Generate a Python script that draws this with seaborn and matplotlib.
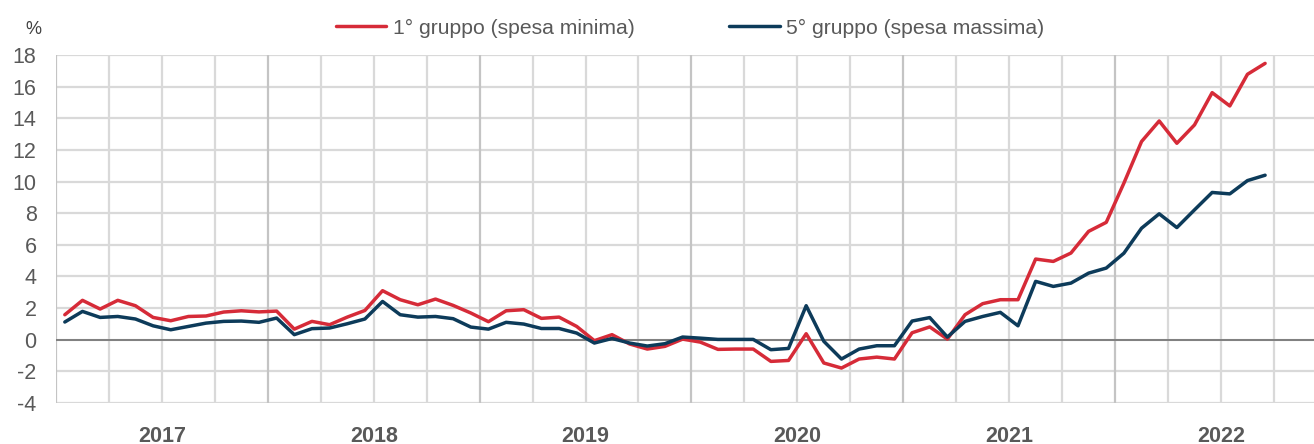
import numpy as np
import pandas as pd

import matplotlib as mpl
mpl.use('Agg')
import matplotlib.pyplot as plt
import seaborn as sns

sns.set_style('white')
plt.rcParams['font.family'] = ['Liberation Sans', 'DejaVu Sans']
plt.rcParams['axes.unicode_minus'] = False

years = ['2017', '2018', '2019', '2020', '2021', '2022']
series_names = ['1° gruppo (spesa minima)', '5° gruppo (spesa massima)']

# monthly values, Jan 2017 - Sep 2022
grp1 = [1.58, 2.49, 1.94, 2.49, 2.15, 1.41, 1.20, 1.47, 1.50, 1.75, 1.83, 1.76,
        1.81, 0.67, 1.16, 0.95, 1.43, 1.85, 3.10, 2.53, 2.21, 2.57, 2.17, 1.69,
        1.14, 1.83, 1.90, 1.35, 1.43, 0.84, -0.06, 0.32, -0.27, -0.59, -0.42, 0.04,
        -0.15, -0.61, -0.59, -0.59, -1.37, -1.31, 0.38, -1.47, -1.79, -1.22, -1.10, -1.22,
        0.44, 0.81, 0.04, 1.58, 2.28, 2.53, 2.53, 5.10, 4.95, 5.48, 6.85, 7.42,
        9.90, 12.53, 13.83, 12.42, 13.58, 15.62, 14.78, 16.78, 17.47]
grp5 = [1.12, 1.79, 1.41, 1.47, 1.31, 0.88, 0.63, 0.84, 1.05, 1.16, 1.18, 1.10,
        1.37, 0.32, 0.70, 0.74, 1.01, 1.31, 2.42, 1.58, 1.43, 1.47, 1.33, 0.80,
        0.67, 1.10, 0.99, 0.71, 0.71, 0.42, -0.21, 0.08, -0.21, -0.40, -0.25, 0.17,
        0.10, 0.02, 0.02, 0.02, -0.63, -0.55, 2.15, -0.10, -1.22, -0.59, -0.38, -0.38,
        1.18, 1.40, 0.17, 1.16, 1.47, 1.73, 0.88, 3.69, 3.37, 3.58, 4.21, 4.53,
        5.47, 7.05, 7.96, 7.09, 8.21, 9.31, 9.22, 10.06, 10.40]

month_idx = np.arange(len(grp1))
plot_df = pd.DataFrame({
    'Mese': np.concatenate([month_idx, month_idx]),
    'Valore': grp1 + grp5,
    'Gruppo': [series_names[0]] * len(grp1) + [series_names[1]] * len(grp5),
})

txt_col = '#595959'
line_cols = ['#d62b38', '#0d3b5a']
fig = plt.figure(figsize=(13.14, 4.44), dpi=100)
ax = fig.add_axes([56 / 1314, 41 / 444, 1 - 56 / 1314, 348 / 444])

# grid: horizontal every 2, vertical every quarter, darker at year starts
for yv in range(-4, 19, 2):
    ax.axhline(yv, color='#d9d9d9', linewidth=1.6, zorder=0)
for q in range(0, 25):
    xv = -0.5 + 3 * q
    ax.axvline(xv, color='#c4c4c4' if q % 4 == 0 else '#d9d9d9',
               linewidth=1.6, zorder=0)
ax.axhline(0, color='#7f7f7f', linewidth=1.4, zorder=1)

sns.lineplot(data=plot_df, x='Mese', y='Valore', hue='Gruppo',
             palette=line_cols, linewidth=2.5, ax=ax,
             legend=False, zorder=3)

ax.set_xlim(-0.5, 70.77)
ax.set_ylim(-4, 18)
ax.set_yticks(range(-4, 19, 2))
ax.set_xticks([])
ax.set_xlabel('')
ax.set_ylabel('')
ax.tick_params(axis='y', length=0, pad=14, labelsize=15.5, labelcolor=txt_col)
for sp in ax.spines.values():
    sp.set_visible(False)

for i, yr in enumerate(years):
    ax.text(12 * i + 5.5, -0.065, yr, transform=ax.get_xaxis_transform(),
            ha='center', va='top', fontsize=15.5, weight='bold', color=txt_col)

fig.text(33 / 1314, 1 - 29 / 444, '%', ha='center', va='center',
         fontsize=13, color='#404040')

handles = [mpl.lines.Line2D([], [], color=c, linewidth=2.5) for c in line_cols]
leg = fig.legend(handles, series_names, loc='center',
                 bbox_to_anchor=(690 / 1314, 1 - 28 / 444), ncol=2,
                 frameon=False, fontsize=15.2, handlelength=2.4,
                 handletextpad=0.3, columnspacing=4.5)
for t in leg.get_texts():
    t.set_color(txt_col)

fig.savefig('out.png', dpi=100)
plt.close()
